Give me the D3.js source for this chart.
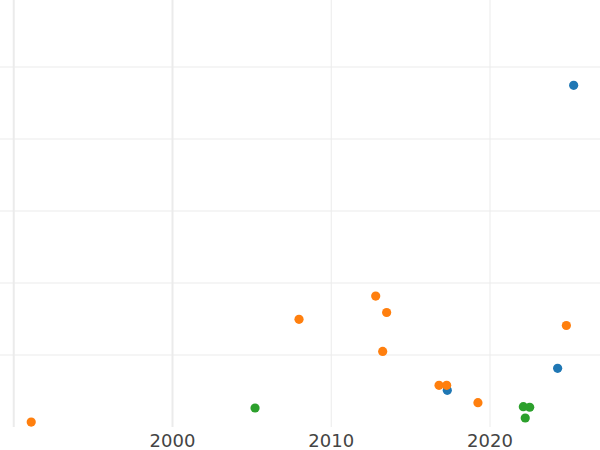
<!DOCTYPE html>
<html>
<head>
<meta charset="utf-8">
<script src="https://cdn.jsdelivr.net/npm/d3@7"></script>
<style>
  body { margin: 0; background: #fff; }
  svg { display: block; }
</style>
</head>
<body>
<div id="chart"></div>
<script>
// Data (year, value)
const blueYears   = [2025.27, 2024.26, 2017.31];
const blueValues  = [474.6, 81.5, 51.0];
const orangeYears  = [1991.1, 2007.97, 2012.8, 2013.49, 2013.24, 2016.79, 2017.27, 2019.24, 2024.81];
const orangeValues = [6.9, 149.6, 181.9, 159.0, 104.9, 57.9, 57.9, 33.8, 141.0];
const greenYears  = [2005.2, 2022.1, 2022.5, 2022.22];
const greenValues = [26.4, 28.2, 27.4, 12.5];

const xGridYears = [1990, 2000, 2010, 2020];
const xTickLabels = [2000, 2010, 2020];
const yGridValues = [100, 200, 300, 400, 500];

const seriesList = [
  {name: "blue", color: "#1f77b4", years: blueYears, values: blueValues},
  {name: "orange", color: "#ff7f0e", years: orangeYears, values: orangeValues},
  {name: "green", color: "#2ca02c", years: greenYears, values: greenValues}
];

const width = 600;
const height = 450;
const plotBottom = 427;

const svg = d3.select("#chart")
    .append("svg")
    .attr("width", width)
    .attr("height", height);

// Scales
const x = d3.scaleLinear()
    .domain([2000, 2020])
    .range([172.5, 490]);

const y = d3.scaleLinear()
    .domain([0, 500])
    .range([plotBottom, 67]);

// Horizontal gridlines
svg.append("g")
    .selectAll("line")
    .data(yGridValues)
    .join("line")
    .attr("x1", 0)
    .attr("x2", width)
    .attr("y1", d => y(d))
    .attr("y2", d => y(d))
    .attr("stroke", "#ebebeb")
    .attr("stroke-width", 1);

// Vertical gridlines
svg.append("g")
    .selectAll("line")
    .data(xGridYears)
    .join("line")
    .attr("x1", d => x(d))
    .attr("x2", d => x(d))
    .attr("y1", 0)
    .attr("y2", plotBottom)
    .attr("stroke", "#ebebeb")
    .attr("stroke-width", d => d <= 2000 ? 2 : 1);

// Tick labels
svg.append("g")
    .selectAll("text")
    .data(xTickLabels)
    .join("text")
    .attr("x", d => x(d))
    .attr("y", 447)
    .attr("text-anchor", "middle")
    .attr("font-family", "DejaVu Sans, sans-serif")
    .attr("font-size", 18)
    .attr("fill", "#444")
    .text(d => d);

// Points
seriesList.forEach(s => {
  const pts = s.years.map((yr, i) => ({year: yr, value: s.values[i]}));
  svg.append("g")
    .selectAll("circle")
    .data(pts)
    .join("circle")
    .attr("cx", d => x(d.year))
    .attr("cy", d => y(d.value))
    .attr("r", 4.6)
    .attr("fill", s.color);
});
</script>
</body>
</html>
